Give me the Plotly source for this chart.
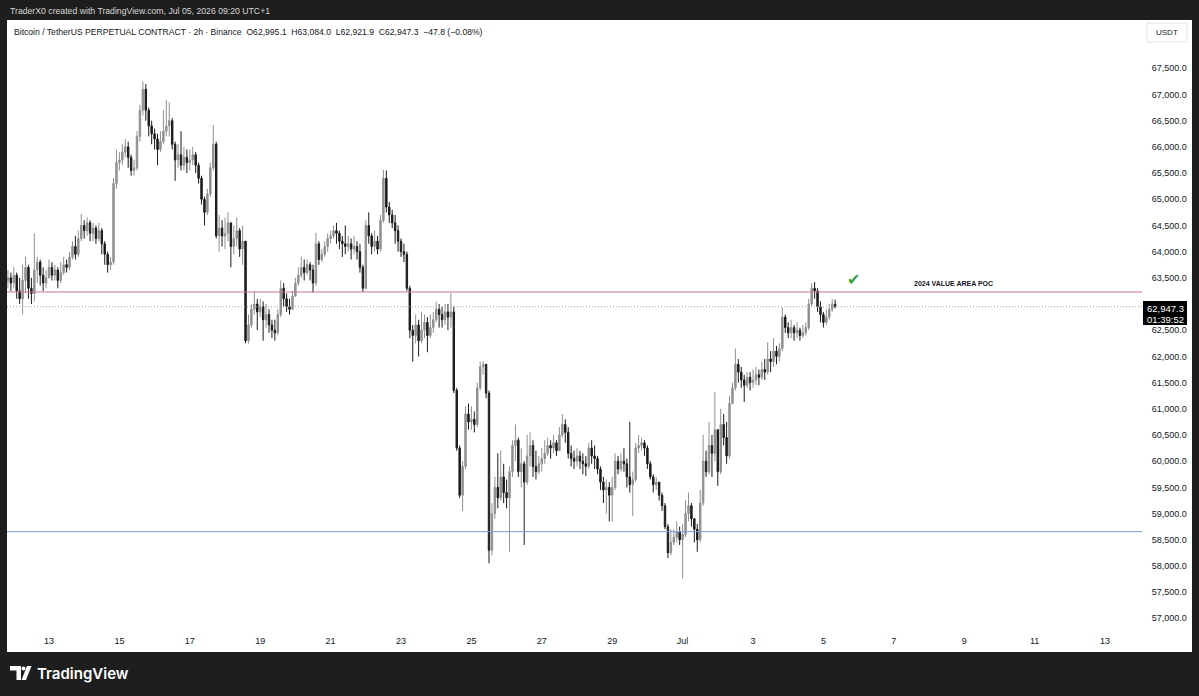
import pandas as pd
import plotly.graph_objects as go

# ---------------- data (2h candles, BTCUSDT perp) ----------------
start_time = "2026-06-11 20:00"
first_open = 63450

closes = [
    63500, 63400,  # Jun 11
    63550, 63250, 63100, 63450, 63700, 63300, 63200, 63650, 63800, 63550, 63400, 63500,  # Jun 12
    63700, 63550, 63650, 63450, 63600, 63750, 63700, 63900, 64100, 63950, 64250, 64500,  # Jun 13
    64400, 64550, 64350, 64450, 64250, 64400, 64150, 63950, 63750, 63800, 65300, 65700,  # Jun 14
    65750, 65900, 66000, 65800, 65550, 65600, 66200, 66700, 67100, 66700, 66400, 66250,  # Jun 15
    66150, 65950, 66100, 66300, 66400, 66500, 66050, 65750, 65850, 65650, 65800, 65700,  # Jun 16
    65750, 65850, 65650, 65400, 65000, 64750, 65100, 65600, 66050, 64300, 64450, 64300,  # Jun 17
    64350, 64550, 64100, 64250, 64400, 64050, 64200, 62300, 62600, 62900, 63000, 62850,  # Jun 18
    62950, 62700, 62800, 62600, 62500, 62450, 62800, 63300, 63100, 62950, 62900, 63150,  # Jun 19
    63400, 63550, 63700, 63600, 63750, 63650, 63400, 64150, 63850, 63950, 64100, 64250,  # Jun 20
    64300, 64400, 64350, 64200, 64150, 64100, 64150, 64050, 64100, 64000, 63700, 63300,  # Jun 21
    64500, 64300, 64100, 64200, 64050, 64600, 65400, 64850, 64700, 64550, 64400, 64200,  # Jun 22
    64000, 63950, 63300, 62500, 62400, 62600, 62300, 62500, 62650, 62400, 62550, 62700,  # Jun 23
    62900, 62800, 62700, 62850, 62750, 62850, 61350, 60250, 59350, 59900, 60900, 60750,  # Jun 24
    60800, 60700, 61400, 61800, 61850, 61300, 58300, 59000, 59500, 59300, 59700, 59400,  # Jun 25
    59300, 59800, 60300, 60400, 59800, 59950, 59600, 60100, 60300, 59900, 59800, 59950,  # Jun 26
    60050, 60150, 60300, 60250, 60350, 60200, 60500, 60700, 60550, 60150, 60050, 60000,  # Jun 27
    60100, 60000, 59950, 59900, 60250, 60100, 60050, 59850, 59600, 59450, 59500, 59350,  # Jun 28
    59500, 60000, 59850, 60000, 59950, 59700, 59550, 59650, 60250, 60300, 60350, 60250,  # Jun 29
    59950, 59700, 59550, 59600, 59350, 59150, 58750, 58250, 58450, 58550, 58650, 58500,  # Jun 30
    58600, 59000, 59150, 58900, 58700, 58500, 59200, 60000, 59800, 60300, 60150, 60600,  # Jul 1
    59800, 60700, 60450, 60100, 61100, 61400, 61850, 61700, 61550, 61450, 61600, 61500,  # Jul 2
    61550, 61650, 61600, 61750, 61700, 61950, 61900, 62100, 62000, 62150, 62750, 62550,  # Jul 3
    62450, 62550, 62450, 62500, 62400, 62450, 62550, 63000, 63300, 63250, 62950, 62800,  # Jul 4
    62650, 62750, 62900, 62995.1, 62947.3,  # Jul 5
]

highs = [
    63650, 63600,
    63700, 63600, 63500, 63750, 63900, 63750, 63500, 64350, 63900, 63850, 63700, 63650,
    63850, 63800, 63750, 63700, 63800, 63900, 63850, 64000, 64200, 64300, 64400, 64720,
    64600, 64650, 64600, 64550, 64500, 64550, 64450, 64200, 64000, 63900, 65400, 65950,
    65900, 66050, 66150, 66100, 65850, 65750, 66300, 66800, 67250, 67200, 66750, 66500,
    66350, 66250, 66300, 66700, 66900, 66850, 66550, 66100, 66050, 66300, 66000, 65950,
    65950, 66000, 65900, 65700, 65450, 65050, 65200, 65700, 66420, 66100, 64700, 64600,
    64650, 64750, 64550, 64500, 64650, 64450, 64500, 64200, 62800, 63000, 63250, 63100,
    63100, 63050, 63000, 62900, 62700, 62700, 62900, 63450, 63400, 63200, 63100, 63250,
    63500, 63700, 63900, 63850, 63850, 63800, 63750, 64360, 64200, 64050, 64200, 64350,
    64400, 64500, 64550, 64400, 64300, 64500, 64300, 64250, 64300, 64200, 64150, 63750,
    64600, 64750, 64350, 64400, 64300, 64700, 65560, 65550, 64950, 64800, 64700, 64500,
    64250, 64150, 64000, 63350, 62600, 62800, 62700, 62850, 62800, 62750, 62800, 62850,
    63050, 63000, 62950, 63000, 63000, 63220, 62950, 61400, 60300, 60000, 61050, 61100,
    61050, 60950, 61500, 61900, 61910, 61850, 61350, 59200, 59700, 60150, 60200, 59950,
    59650, 59900, 60400, 60700, 60450, 60250, 60000, 60500, 60550, 60400, 60200, 60100,
    60250, 60400, 60450, 60400, 60500, 60400, 60650, 60900, 60800, 60650, 60300, 60200,
    60250, 60200, 60150, 60100, 60350, 60400, 60300, 60100, 59900, 59700, 59650, 59600,
    59700, 60150, 60100, 60150, 60250, 60050, 60750, 59800, 60350, 60500, 60450, 60400,
    60300, 60000, 59750, 59700, 59600, 59400, 59200, 58800, 58700, 58700, 58850, 58750,
    58800, 59250, 59400, 59200, 58900, 58800, 59450, 60500, 60200, 60750, 60500, 61320,
    60300, 61000, 60900, 60750, 61250, 61500, 62150, 61950, 61800, 61650, 61700, 61700,
    61750, 61800, 61750, 61900, 61950, 62270, 62100, 62350, 62200, 62250, 62935, 62800,
    62650, 62700, 62600, 62650, 62550, 62600, 62650, 63100, 63400, 63420, 63300, 63050,
    62850, 62900, 63000, 63100, 63084.0,
]

lows = [
    63300, 63250,
    63300, 63100, 63000, 62800, 63200, 63100, 63000, 63050, 63400, 63350, 63250, 63300,
    63500, 63450, 63450, 63300, 63400, 63550, 63600, 63650, 63850, 63850, 63900, 64200,
    64250, 64300, 64200, 64200, 64150, 64200, 63950, 63750, 63600, 63650, 63750, 65200,
    65550, 65650, 65800, 65600, 65450, 65450, 65550, 66100, 66600, 66500, 66200, 66050,
    65950, 65650, 65900, 66050, 66200, 66200, 65950, 65350, 65600, 65550, 65550, 65500,
    65550, 65650, 65500, 65300, 64900, 64500, 64700, 65050, 65550, 64250, 64000, 64100,
    64050, 64200, 63700, 63950, 64100, 63900, 63750, 62250, 62250, 62550, 62800, 62500,
    62750, 62300, 62550, 62450, 62350, 62300, 62400, 62750, 62950, 62850, 62800, 62900,
    63250, 63350, 63500, 63450, 63550, 63450, 63220, 63350, 63750, 63800, 63900, 64000,
    64150, 64250, 64150, 64050, 63900, 63950, 64000, 63850, 63950, 63850, 63600, 63230,
    63300, 64150, 63950, 64000, 63950, 64000, 64550, 64750, 64550, 64450, 64150, 64000,
    63900, 63800, 63250, 62350, 61900, 62250, 62000, 62250, 62350, 62080, 62350, 62450,
    62650, 62550, 62550, 62600, 62500, 62550, 61300, 60200, 59300, 59050, 59850, 60600,
    60600, 60550, 60650, 61350, 61650, 61200, 58050, 58200, 58900, 59100, 59250, 59200,
    59100, 58270, 59700, 60000, 59700, 59500, 58400, 59550, 59900, 59700, 59650, 59750,
    59800, 59950, 60100, 60050, 60150, 60100, 60200, 60450, 60350, 60050, 59900, 59850,
    59900, 59850, 59750, 59720, 59850, 59950, 59850, 59750, 59450, 59200, 59000, 58850,
    58850, 59450, 59750, 59800, 59800, 59500, 59400, 58950, 59600, 60150, 60200, 60100,
    59850, 59650, 59400, 59450, 59250, 59050, 58700, 58150, 58200, 58400, 58450, 58400,
    57760, 58550, 58850, 58750, 58450, 58270, 58450, 59150, 59700, 59750, 59700, 60000,
    59530, 59750, 60300, 59950, 60050, 61100, 61350, 61500, 61400, 61130, 61400, 61350,
    61400, 61450, 61450, 61550, 61550, 61650, 61700, 61800, 61850, 61900, 62100, 62450,
    62350, 62350, 62300, 62350, 62300, 62350, 62400, 62500, 62950, 63100, 62850, 62650,
    62550, 62600, 62700, 62850, 62921.9,
]

poc_level = 63230        # "2024 VALUE AREA POC"
support_level = 58655    # blue horizontal line
last_price = 62947.3

price_ticks = [57000, 57500, 58000, 58500, 59000, 59500, 60000, 60500, 61000, 61500, 62000,
               62500, 63500, 64000, 64500, 65000, 65500, 66000, 66500, 67000, 67500]
date_ticks = ["2026-06-13", "2026-06-15", "2026-06-17", "2026-06-19", "2026-06-21", "2026-06-23",
              "2026-06-25", "2026-06-27", "2026-06-29", "2026-07-01", "2026-07-03", "2026-07-05",
              "2026-07-07", "2026-07-09", "2026-07-11", "2026-07-13"]
date_labels = ["13", "15", "17", "19", "21", "23", "25", "27", "29", "Jul", "3", "5", "7", "9", "11", "13"]

# ---------------- derived ----------------
n = len(closes)
times = pd.date_range(start_time, periods=n, freq="2h")
opens = [first_open] + closes[:-1]
highs_c = [max(h, o, c) for h, o, c in zip(highs, opens, closes)]
lows_c = [min(l, o, c) for l, o, c in zip(lows, opens, closes)]

# ---------------- layout geometry ----------------
W, H = 1199, 696
L, R, T, B = 7, 57, 20, 66
PW, PH = W - L - R, H - T - B


def px(x):
    return (x - L) / PW


def py(y):
    return (H - B - y) / PH


UP = "#909090"
DN = "#1b1b1b"
FRAME = "#1e1e1e"
TXT = "#131722"
FONT = "Liberation Sans"

fig = go.Figure()
fig.add_trace(go.Candlestick(
    x=times, open=opens, high=highs_c, low=lows_c, close=closes,
    increasing=dict(line=dict(color=UP, width=1), fillcolor=UP),
    decreasing=dict(line=dict(color=DN, width=1), fillcolor=DN),
    whiskerwidth=0, showlegend=False, hoverinfo="skip",
))

shapes = [
    # white panel
    dict(type="rect", xref="paper", yref="paper", x0=px(7), x1=px(1192), y0=py(652), y1=py(20),
         fillcolor="white", line=dict(width=0), layer="below"),
    # horizontal levels
    dict(type="line", xref="paper", yref="y", x0=0, x1=1, y0=poc_level, y1=poc_level,
         line=dict(color="#c9738a", width=1)),
    dict(type="line", xref="paper", yref="y", x0=0, x1=1, y0=support_level, y1=support_level,
         line=dict(color="#7b9fd4", width=1)),
    dict(type="line", xref="paper", yref="y", x0=0, x1=1, y0=last_price, y1=last_price,
         line=dict(color="#a0a0a0", width=1, dash="1px,2px")),
    # USDT box
    dict(type="rect", xref="paper", yref="paper", x0=px(1147), x1=px(1187), y0=py(42), y1=py(23),
         fillcolor="white", line=dict(color="#e0e3eb", width=1)),
    # last price label box
    dict(type="rect", xref="paper", yref="paper", x0=px(1143), x1=px(1187), y0=py(325), y1=py(301),
         fillcolor="#000000", line=dict(width=0)),
    # TradingView logo (approximate)
    dict(type="path", xref="paper", yref="paper",
         path=(f"M {px(10)} {py(666)} L {px(21)} {py(666)} L {px(21)} {py(680)} L {px(16.5)} {py(680)} "
               f"L {px(16.5)} {py(670.5)} L {px(10)} {py(670.5)} Z"),
         fillcolor="white", line=dict(width=0)),
    dict(type="circle", xref="paper", yref="paper", x0=px(21.5), x1=px(25.5), y0=py(670.5), y1=py(666.5),
         fillcolor="white", line=dict(width=0)),
    dict(type="path", xref="paper", yref="paper",
         path=(f"M {px(27)} {py(666)} L {px(31.5)} {py(666)} L {px(26)} {py(680)} L {px(21.5)} {py(680)} Z"),
         fillcolor="white", line=dict(width=0)),
]


def note(text, x, y, anchor="left", size=9, color=TXT, family=FONT, **kw):
    return dict(text=text, xref="paper", yref="paper", x=px(x), y=py(y),
                xanchor=anchor, yanchor="middle", showarrow=False,
                font=dict(family=family, size=size, color=color, **kw))


annotations = [
    note("TraderX0 created with TradingView.com, Jul 05, 2026 09:20 UTC+1", 8, 11, size=8.7, color="#d6d6d6"),
    note("Bitcoin / TetherUS PERPETUAL CONTRACT · 2h · Binance  O62,995.1  H63,084.0  L62,921.9  C62,947.3  −47.8 (−0.08%)",
         12, 32, size=8.6),
    note("USDT", 1167, 32.5, anchor="center", size=8),
    note("62,947.3", 1165, 308, anchor="center", size=9.5, color="white"),
    note("01:39:52", 1165, 319, anchor="center", size=9.5, color="white"),
    note("<b>2024 VALUE AREA POC</b>", 953, 284, anchor="center", size=7),
    note("✔", 853, 279, anchor="center", size=16, color="#43a047", family="DejaVu Sans"),
    note("TradingView", 35, 673, size=15, color="white", family="Inter", weight=600),
]

fig.update_layout(
    width=W, height=H,
    margin=dict(l=L, r=R, t=T, b=B),
    paper_bgcolor=FRAME, plot_bgcolor="white",
    shapes=shapes, annotations=annotations,
    showlegend=False,
    font=dict(family=FONT, size=9, color=TXT),
    xaxis=dict(
        type="date",
        range=["2026-06-11 19:22", "2026-07-14 01:13"],
        tickvals=date_ticks, ticktext=date_labels,
        showgrid=False, zeroline=False, showline=False,
        ticks="outside", ticklen=2, tickcolor="rgba(0,0,0,0)",
        tickfont=dict(family=FONT, size=9, color=TXT),
        rangeslider=dict(visible=False), fixedrange=True,
    ),
    yaxis=dict(
        side="right",
        range=[56777, 68422],
        tickvals=price_ticks, ticktext=[f"{v:,.1f}" for v in price_ticks],
        showgrid=False, zeroline=False, showline=False,
        ticks="outside", ticklen=7, tickcolor="rgba(0,0,0,0)",
        tickfont=dict(family=FONT, size=9, color=TXT),
        fixedrange=True,
    ),
)

fig.write_html("out.html", config={"displayModeBar": False})
